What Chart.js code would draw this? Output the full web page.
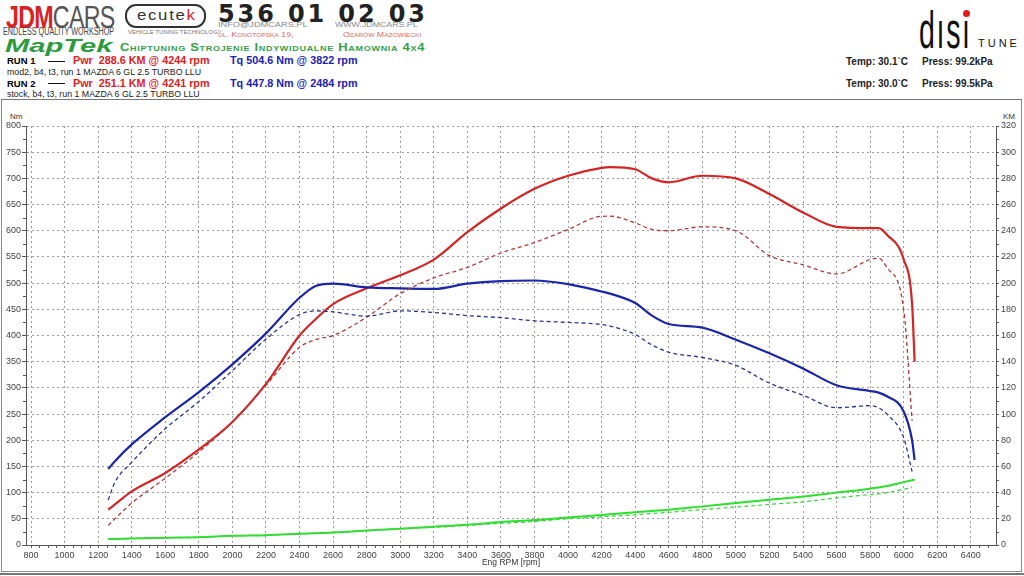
<!DOCTYPE html>
<html>
<head>
<meta charset="utf-8">
<script src="https://cdn.jsdelivr.net/npm/chart.js@4.4.1/dist/chart.umd.min.js"></script>
<style>
    body { margin: 0; width: 1024px; height: 576px; overflow: hidden; background: #fff; position: relative;
           font-family: 'Liberation Sans', Arial, sans-serif; }
    .t { position: absolute; white-space: nowrap; line-height: 1; }
    .sx { transform-origin: 0 0; }
    #frame { position: absolute; left: 1px; top: 99px; width: 1019px; height: 471px; border: 1px solid #8a8a8a; border-top-color: #777; }
    #base { position: absolute; left: 0; top: 573px; width: 1024px; height: 0; border-top: 2px solid #777; }
    #chartBox { position: absolute; left: 0; top: 100px; width: 1024px; height: 470px; }
</style>
</head>
<body>

<!-- header: logos -->
<div class="t sx" style="left:6px;top:2px;font-size:31px;transform:scaleX(0.75);letter-spacing:-1px;">
    <span style="color:#d8221f;font-weight:bold;">JDM</span><span style="color:#555;font-weight:normal;">CARS</span>
</div>
<div class="t sx" style="left:3px;top:27px;font-size:10px;color:#444;transform:scaleX(0.72);">ENDLESS QUALITY WORKSHOP</div>

<div class="t" style="left:125px;top:4px;width:77px;height:20px;border:2px solid #333;border-radius:11px;"></div>
<div class="t sx" style="left:137px;top:7px;font-size:15px;color:#333;letter-spacing:1.5px;transform:scaleX(1.12);">ecute<span style="color:#d8221f">k</span></div>
<div class="t sx" style="left:128px;top:30px;font-size:5px;color:#777;transform:scaleX(1.2);">VEHICLE TUNING TECHNOLOGY</div>

<div class="t sx" style="left:218px;top:1px;font-size:25px;font-weight:bold;color:#222;letter-spacing:3px;transform:scaleX(0.96);font-family:'DejaVu Sans',sans-serif;">536 01 02 03</div>
<div class="t sx" style="left:218px;top:21px;font-size:8px;color:#888;transform:scaleX(1.15);">INFO@JDMCARS.PL</div>
<div class="t sx" style="left:335px;top:21px;font-size:8px;color:#888;transform:scaleX(1.1);">WWW.JDMCARS.PL</div>
<div class="t sx" style="left:218px;top:31px;font-size:8px;color:#e06868;font-variant:small-caps;transform:scaleX(1.1);">ul. Konotopska 19,</div>
<div class="t sx" style="left:343px;top:31px;font-size:8px;color:#e06868;font-variant:small-caps;transform:scaleX(1.1);">Ozarów Mazowiecki</div>

<div class="t sx" style="left:5px;top:37px;font-size:18px;font-weight:bold;font-style:italic;color:#2c9b40;transform:scaleX(1.62);">MapTek</div>
<div class="t sx" style="left:120px;top:42px;font-size:11.5px;font-weight:bold;color:#34a046;font-variant:small-caps;letter-spacing:0.6px;transform:scaleX(1.13);">Chiptuning Strojenie Indywidualne Hamownia 4x4</div>

<!-- disi tune -->
<div class="t sx" style="left:919px;top:4px;font-size:52px;color:#111;transform:scaleX(0.55);letter-spacing:3px;">dısı</div>
<div class="t" style="left:963px;top:10px;width:7px;height:7px;border-radius:4px;background:#e01818;"></div>
<div class="t" style="left:978px;top:38px;font-size:11px;color:#111;letter-spacing:3px;">TUNE</div>

<!-- run info -->
<div class="t" style="left:7px;top:56px;font-size:9.5px;font-weight:bold;">RUN 1</div>
<div class="t" style="left:48px;top:61px;width:17px;height:0;border-top:1.5px solid #111;"></div>
<div class="t" style="left:73px;top:55px;font-size:10.8px;font-weight:bold;color:#e0201e;white-space:pre;">Pwr  288.6 KM @ 4244 rpm</div>
<div class="t" style="left:230px;top:55px;font-size:10.8px;font-weight:bold;color:#1a22b4;">Tq 504.6 Nm @ 3822 rpm</div>
<div class="t" style="left:7px;top:68px;font-size:8.8px;color:#222;">mod2, b4, t3, run 1 MAZDA 6 GL 2.5 TURBO LLU</div>

<div class="t" style="left:7px;top:79px;font-size:9.5px;font-weight:bold;">RUN 2</div>
<div class="t" style="left:48px;top:83px;width:17px;height:0;border-top:1.5px solid #111;"></div>
<div class="t" style="left:73px;top:78px;font-size:10.8px;font-weight:bold;color:#e0201e;white-space:pre;">Pwr  251.1 KM @ 4241 rpm</div>
<div class="t" style="left:230px;top:78px;font-size:10.8px;font-weight:bold;color:#1a22b4;">Tq 447.8 Nm @ 2484 rpm</div>
<div class="t" style="left:7px;top:90px;font-size:8.8px;color:#222;">stock, b4, t3, run 1 MAZDA 6 GL 2.5 TURBO LLU</div>

<div class="t" style="left:846px;top:57px;font-size:10px;font-weight:bold;color:#222;">Temp: 30.1`C</div>
<div class="t" style="left:922px;top:57px;font-size:10px;font-weight:bold;color:#222;">Press: 99.2kPa</div>
<div class="t" style="left:846px;top:79px;font-size:10px;font-weight:bold;color:#222;">Temp: 30.0`C</div>
<div class="t" style="left:922px;top:79px;font-size:10px;font-weight:bold;color:#222;">Press: 99.5kPa</div>

<div id="frame"></div>
<div id="base"></div>

<div class="t" style="left:10px;top:113px;font-size:8px;color:#333;">Nm</div>
<div class="t" style="left:1003px;top:113px;font-size:8px;color:#333;">KM</div>

<div id="chartBox"><canvas id="dynoChart" width="1024" height="470"></canvas></div>

<script>
// engine speed samples [rpm]
const rpm = [1260, 1300, 1400, 1600, 1800, 2000, 2200, 2400, 2500, 2600, 2800, 3000, 3200, 3400, 3600, 3800,
             4000, 4200, 4250, 4400, 4500, 4600, 4800, 5000, 5200, 5400, 5600, 5800, 5850, 5900, 6000, 6050, 6065];

// RUN 1 (mod2) - solid
const torqueRun1 = [145, 160, 192, 244, 292, 345, 404, 472, 495, 499, 492, 490, 489, 499, 504, 505,
                    498, 484, 480, 462, 438, 422, 415, 392, 366, 337, 305, 294, 291, 284, 255, 200, 162];
const powerRun1 = [27, 31, 41, 55, 73, 94, 123, 160, 173, 184, 196, 206, 218, 239, 257, 272,
                   282, 288, 288.6, 287, 280, 277, 282, 280, 268, 254, 243, 242, 242, 237, 218, 184, 140];
const lossRun1 = [4.5, 4.6, 5, 5.5, 6, 7, 7.5, 8.5, 9, 9.5, 11, 12.5, 14, 15.5, 17.5, 19,
                  21, 23, 23.5, 25, 26, 27, 29.5, 32, 34.5, 37, 40, 43, 44, 45, 48, 49.5, 50];

// RUN 2 (stock) - dashed
const torqueRun2 = [86, 120, 158, 222, 274, 333, 393, 440, 447, 445, 437, 447, 444, 438, 434, 428,
                    425, 421, 418, 402, 382, 368, 358, 343, 309, 286, 262, 266, 262, 250, 205, 140, null];
const powerRun2 = [15, 20, 32, 51, 71, 94, 122, 151, 157, 160, 174, 192, 204, 212, 223, 231,
                   241, 251, 251.1, 246, 241, 240, 243, 240, 221, 214, 207, 218, 219, 212, 180, 95, null];
const lossRun2 = [4.5, 4.6, 5, 5.5, 6, 7, 7.5, 8.5, 9, 9.5, 11, 12.5, 13.5, 15, 16.5, 18,
                  20, 21.5, 22, 23, 24, 25, 27, 29, 31, 33, 36, 38.5, 39, 40, 42.5, 44, null];

// axis ticks
const rpmTicks = [800, 1000, 1200, 1400, 1600, 1800, 2000, 2200, 2400, 2600, 2800, 3000, 3200,
                  3400, 3600, 3800, 4000, 4200, 4400, 4600, 4800, 5000, 5200, 5400, 5600, 5800, 6000, 6200, 6400];
const rpmMin = 770, rpmMax = 6550;
const nmMax = 800, nmStep = 50;
const kmMax = 320, kmStep = 20;

function pts(values) {
    return rpm.map((r, i) => ({ x: r, y: values[i] }));
}

// small minor tick marks on the axes
const minorTicks = {
    id: 'minorTicks',
    afterDraw(chart) {
        const { ctx, scales: { x, y, y1 } } = chart;
        ctx.save();
        ctx.strokeStyle = '#555';
        ctx.lineWidth = 1;
        ctx.beginPath();
        for (let v = 850; v < rpmMax; v += 50) {
            if (v % 200 === 0) continue;
            const px = Math.round(x.getPixelForValue(v)) + 0.5;
            ctx.moveTo(px, x.top); ctx.lineTo(px, x.top + 3);
        }
        for (let v = 25; v < nmMax; v += 50) {
            const py = Math.round(y.getPixelForValue(v)) + 0.5;
            ctx.moveTo(y.right - 3, py); ctx.lineTo(y.right, py);
        }
        for (let v = 10; v < kmMax; v += 20) {
            const py = Math.round(y1.getPixelForValue(v)) + 0.5;
            ctx.moveTo(y1.left, py); ctx.lineTo(y1.left + 3, py);
        }
        ctx.stroke();
        ctx.restore();
    }
};

const tickFont = { family: "'Liberation Sans', Arial, sans-serif", size: 9 };

new Chart(document.getElementById('dynoChart'), {
    type: 'line',
    data: {
        datasets: [
            { label: 'Loss RUN 2', data: pts(lossRun2), yAxisID: 'y1', borderColor: '#3cd43c', borderWidth: 1.2, borderDash: [4, 3] },
            { label: 'Loss RUN 1', data: pts(lossRun1), yAxisID: 'y1', borderColor: '#2ee02e', borderWidth: 2 },
            { label: 'Tq RUN 2', data: pts(torqueRun2), yAxisID: 'y', borderColor: '#2a3592', borderWidth: 1.3, borderDash: [4, 3] },
            { label: 'Pwr RUN 2', data: pts(powerRun2), yAxisID: 'y1', borderColor: '#b03a3a', borderWidth: 1.3, borderDash: [4, 3] },
            { label: 'Tq RUN 1', data: pts(torqueRun1), yAxisID: 'y', borderColor: '#1a25a8', borderWidth: 2.2 },
            { label: 'Pwr RUN 1', data: pts(powerRun1), yAxisID: 'y1', borderColor: '#d42424', borderWidth: 2.2 }
        ]
    },
    options: {
        responsive: false,
        animation: false,
        elements: {
            point: { radius: 0 },
            line: { cubicInterpolationMode: 'monotone', fill: false }
        },
        layout: { padding: { top: 26, left: 0, right: 0, bottom: 0 } },
        plugins: { legend: { display: false }, tooltip: { enabled: false } },
        scales: {
            x: {
                type: 'linear',
                min: rpmMin,
                max: rpmMax,
                afterFit: s => { s.height = 25; },
                afterBuildTicks: s => { s.ticks = rpmTicks.map(v => ({ value: v })); },
                ticks: { autoSkip: false, maxRotation: 0, color: '#444', font: tickFont, padding: 2,
                         callback: v => String(v) },
                grid: { color: '#9a9a9a', lineWidth: 1, tickLength: 3, tickColor: '#555' },
                border: { color: '#555', width: 1, dash: [2, 3] },
                title: { display: true, text: 'Eng RPM [rpm]', color: '#333',
                         font: { family: "'Liberation Sans', Arial, sans-serif", size: 8.5 }, padding: { top: 0, bottom: 2 } }
            },
            y: {
                position: 'left',
                min: 0,
                max: nmMax,
                afterFit: s => { s.width = 26; },
                ticks: { stepSize: nmStep, color: '#444', font: tickFont, padding: 1 },
                grid: { color: '#9a9a9a', lineWidth: 1, tickLength: 4, tickColor: '#555' },
                border: { color: '#555', width: 1, dash: [2, 3] }
            },
            y1: {
                position: 'right',
                min: 0,
                max: kmMax,
                afterFit: s => { s.width = 28; },
                ticks: { stepSize: kmStep, color: '#444', font: tickFont, padding: 2 },
                grid: { drawOnChartArea: false, tickLength: 3, tickColor: '#555' },
                border: { color: '#555', width: 1 }
            }
        }
    },
    plugins: [minorTicks]
});
</script>
</body>
</html>
